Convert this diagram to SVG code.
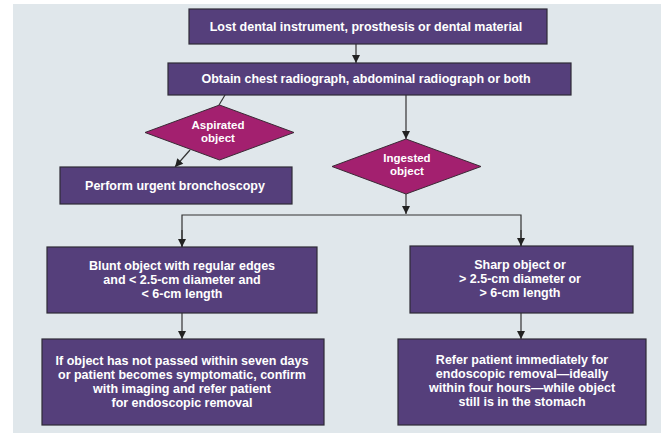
<svg xmlns="http://www.w3.org/2000/svg" width="661" height="437" viewBox="0 0 661 437">
<defs>
<style>
.box{fill:#553f7b;stroke:#2e2a36;stroke-width:1.2}
.dia{fill:#a3206f;stroke:#3b2a36;stroke-width:1}
.t{fill:#ffffff;font-family:"Liberation Sans",Arial,sans-serif;font-weight:bold;font-size:12.5px;text-anchor:middle}
.d{font-size:11.5px}
.c{fill:none;stroke:#333333;stroke-width:1.2}
</style>
<marker id="ah" markerWidth="10" markerHeight="10" refX="9" refY="5" orient="auto" markerUnits="userSpaceOnUse">
<path d="M1,1 L9,5 L1,9 Z" fill="#222222"/>
</marker>
</defs>
<rect x="0" y="0" width="661" height="437" fill="#ffffff"/>
<rect x="13" y="4" width="648" height="429" fill="#e0e7eb"/>

<g id="connectors">
<line class="c" x1="356" y1="44" x2="356" y2="63" marker-end="url(#ah)"/>
<line class="c" x1="406" y1="95" x2="406" y2="139" marker-end="url(#ah)"/>
<line class="c" x1="225" y1="95" x2="219" y2="105"/>
<line class="c" x1="190" y1="150" x2="175" y2="167" marker-end="url(#ah)"/>
<line class="c" x1="406" y1="194" x2="406" y2="214" marker-end="url(#ah)"/>
<polyline class="c" points="182,247 182,215 521,215 521,246"/>
<line class="c" x1="182" y1="230" x2="182" y2="247" marker-end="url(#ah)"/>
<line class="c" x1="521" y1="230" x2="521" y2="246" marker-end="url(#ah)"/>
<line class="c" x1="182" y1="313" x2="182" y2="339" marker-end="url(#ah)"/>
<line class="c" x1="521" y1="313" x2="521" y2="339" marker-end="url(#ah)"/>
</g>

<g id="lost">
<rect class="box" x="189" y="9" width="358" height="35"/>
<text class="t" x="366" y="31">Lost dental instrument, prosthesis or dental material</text>
</g>
<g id="obtain">
<rect class="box" x="168" y="63" width="403" height="32"/>
<text class="t" x="366" y="83">Obtain chest radiograph, abdominal radiograph or both</text>
</g>
<g id="aspirated">
<polygon class="dia" points="219.5,105 294,132.5 219.5,160 145,132.5"/>
<text class="t d" x="218" y="129">Aspirated</text>
<text class="t d" x="218" y="142">object</text>
</g>
<g id="ingested">
<polygon class="dia" points="406,139 481,166.5 406,194 332,166.5"/>
<text class="t d" x="407" y="162">Ingested</text>
<text class="t d" x="407" y="175">object</text>
</g>
<g id="bronchoscopy">
<rect class="box" x="60" y="167" width="232" height="37"/>
<text class="t" x="175" y="190">Perform urgent bronchoscopy</text>
</g>
<g id="blunt">
<rect class="box" x="47" y="247" width="270" height="66"/>
<text class="t" x="182" y="270">Blunt object with regular edges</text>
<text class="t" x="182" y="284">and &lt; 2.5-cm diameter and</text>
<text class="t" x="182" y="298">&lt; 6-cm length</text>
</g>
<g id="sharp">
<rect class="box" x="410" y="246" width="223" height="67"/>
<text class="t" x="520" y="269">Sharp object or</text>
<text class="t" x="520" y="283">&gt; 2.5-cm diameter or</text>
<text class="t" x="520" y="297">&gt; 6-cm length</text>
</g>
<g id="passed">
<rect class="box" x="42" y="339" width="282" height="86"/>
<text class="t" x="182" y="365">If object has not passed within seven days</text>
<text class="t" x="182" y="379">or patient becomes symptomatic, confirm</text>
<text class="t" x="182" y="393">with imaging and refer patient</text>
<text class="t" x="182" y="407">for endoscopic removal</text>
</g>
<g id="refer">
<rect class="box" x="398" y="339" width="248" height="86"/>
<text class="t" x="522" y="364">Refer patient immediately for</text>
<text class="t" x="522" y="378">endoscopic removal—ideally</text>
<text class="t" x="522" y="392">within four hours—while object</text>
<text class="t" x="522" y="406">still is in the stomach</text>
</g>
</svg>
